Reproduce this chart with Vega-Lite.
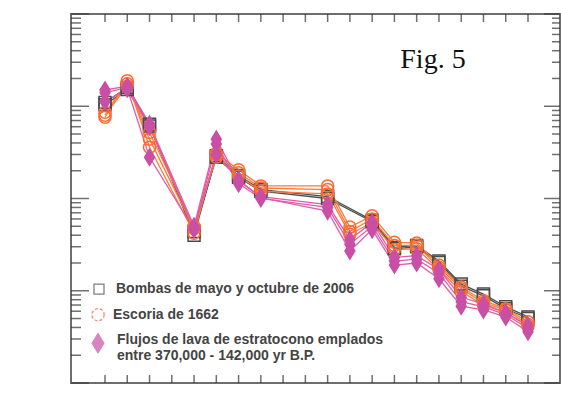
{
  "$schema": "https://vega.github.io/schema/vega-lite/v6.json",
  "width": 489,
  "height": 369,
  "autosize": {"type": "none"},
  "padding": {"left": 71, "top": 14, "right": 1, "bottom": 24},
  "background": "white",
  "config": {
    "view": {"stroke": "#6e6e6e", "strokeWidth": 2}
  },
  "data": {"values": [
    {"g":"B","s":"B1","el":"Rb","v":110},{"g":"B","s":"B1","el":"Ba","v":160},{"g":"B","s":"B1","el":"Th","v":64},{"g":"B","s":"B1","el":"Nb","v":4.0},{"g":"B","s":"B1","el":"K","v":29},{"g":"B","s":"B1","el":"La","v":17.7},{"g":"B","s":"B1","el":"Ce","v":12.5},{"g":"B","s":"B1","el":"Sr","v":10.5},{"g":"B","s":"B1","el":"Nd","v":5.8},{"g":"B","s":"B1","el":"Zr","v":2.95},{"g":"B","s":"B1","el":"Sm","v":3.1},{"g":"B","s":"B1","el":"Eu","v":2.1},{"g":"B","s":"B1","el":"Ti","v":1.18},{"g":"B","s":"B1","el":"Dy","v":0.92},{"g":"B","s":"B1","el":"Y","v":0.67},{"g":"B","s":"B1","el":"Yb","v":0.52},
    {"g":"B","s":"B2","el":"Rb","v":104},{"g":"B","s":"B2","el":"Ba","v":152},{"g":"B","s":"B2","el":"Th","v":61},{"g":"B","s":"B2","el":"Nb","v":4.4},{"g":"B","s":"B2","el":"K","v":28},{"g":"B","s":"B2","el":"La","v":17},{"g":"B","s":"B2","el":"Ce","v":12},{"g":"B","s":"B2","el":"Sr","v":10},{"g":"B","s":"B2","el":"Nd","v":5.6},{"g":"B","s":"B2","el":"Zr","v":2.85},{"g":"B","s":"B2","el":"Sm","v":3.0},{"g":"B","s":"B2","el":"Eu","v":2.02},{"g":"B","s":"B2","el":"Ti","v":1.12},{"g":"B","s":"B2","el":"Dy","v":0.88},{"g":"B","s":"B2","el":"Y","v":0.64},{"g":"B","s":"B2","el":"Yb","v":0.5},
    {"g":"E","s":"E1","el":"Rb","v":76},{"g":"E","s":"E1","el":"Ba","v":189},{"g":"E","s":"E1","el":"Th","v":36},{"g":"E","s":"E1","el":"Nb","v":4.2},{"g":"E","s":"E1","el":"K","v":31},{"g":"E","s":"E1","el":"La","v":20.5},{"g":"E","s":"E1","el":"Ce","v":13.7},{"g":"E","s":"E1","el":"Sr","v":13.7},{"g":"E","s":"E1","el":"P","v":4.9},{"g":"E","s":"E1","el":"Nd","v":6.5},{"g":"E","s":"E1","el":"Zr","v":3.35},{"g":"E","s":"E1","el":"Sm","v":3.3},{"g":"E","s":"E1","el":"Eu","v":1.9},{"g":"E","s":"E1","el":"Ti","v":1.1},{"g":"E","s":"E1","el":"Dy","v":0.78},{"g":"E","s":"E1","el":"Y","v":0.64},{"g":"E","s":"E1","el":"Yb","v":0.46},
    {"g":"E","s":"E2","el":"Rb","v":86},{"g":"E","s":"E2","el":"Ba","v":175},{"g":"E","s":"E2","el":"Th","v":44},{"g":"E","s":"E2","el":"Nb","v":4.7},{"g":"E","s":"E2","el":"K","v":30},{"g":"E","s":"E2","el":"La","v":19},{"g":"E","s":"E2","el":"Ce","v":13},{"g":"E","s":"E2","el":"Sr","v":12.5},{"g":"E","s":"E2","el":"P","v":4.4},{"g":"E","s":"E2","el":"Nd","v":6.0},{"g":"E","s":"E2","el":"Zr","v":3.1},{"g":"E","s":"E2","el":"Sm","v":3.1},{"g":"E","s":"E2","el":"Eu","v":1.8},{"g":"E","s":"E2","el":"Ti","v":1.05},{"g":"E","s":"E2","el":"Dy","v":0.74},{"g":"E","s":"E2","el":"Y","v":0.62},{"g":"E","s":"E2","el":"Yb","v":0.43},
    {"g":"E","s":"E3","el":"Rb","v":80},{"g":"E","s":"E3","el":"Ba","v":165},{"g":"E","s":"E3","el":"Th","v":52},{"g":"E","s":"E3","el":"Nb","v":5.0},{"g":"E","s":"E3","el":"K","v":28},{"g":"E","s":"E3","el":"La","v":17.5},{"g":"E","s":"E3","el":"Ce","v":12},{"g":"E","s":"E3","el":"Sr","v":11.2},{"g":"E","s":"E3","el":"P","v":4.1},{"g":"E","s":"E3","el":"Nd","v":5.5},{"g":"E","s":"E3","el":"Zr","v":2.8},{"g":"E","s":"E3","el":"Sm","v":2.85},{"g":"E","s":"E3","el":"Eu","v":1.7},{"g":"E","s":"E3","el":"Ti","v":0.98},{"g":"E","s":"E3","el":"Dy","v":0.7},{"g":"E","s":"E3","el":"Y","v":0.58},{"g":"E","s":"E3","el":"Yb","v":0.41},
    {"g":"F","s":"F1","el":"Rb","v":150},{"g":"F","s":"F1","el":"Ba","v":165},{"g":"F","s":"F1","el":"Th","v":64},{"g":"F","s":"F1","el":"Nb","v":5.0},{"g":"F","s":"F1","el":"K","v":44},{"g":"F","s":"F1","el":"La","v":15.5},{"g":"F","s":"F1","el":"Ce","v":10.5},{"g":"F","s":"F1","el":"Sr","v":8.6},{"g":"F","s":"F1","el":"P","v":3.6},{"g":"F","s":"F1","el":"Nd","v":5.5},{"g":"F","s":"F1","el":"Zr","v":2.3},{"g":"F","s":"F1","el":"Sm","v":2.4},{"g":"F","s":"F1","el":"Eu","v":1.7},{"g":"F","s":"F1","el":"Ti","v":0.85},{"g":"F","s":"F1","el":"Dy","v":0.72},{"g":"F","s":"F1","el":"Y","v":0.58},{"g":"F","s":"F1","el":"Yb","v":0.42},
    {"g":"F","s":"F2","el":"Rb","v":112},{"g":"F","s":"F2","el":"Ba","v":155},{"g":"F","s":"F2","el":"Th","v":28},{"g":"F","s":"F2","el":"Nb","v":4.6},{"g":"F","s":"F2","el":"K","v":39},{"g":"F","s":"F2","el":"La","v":14.5},{"g":"F","s":"F2","el":"Ce","v":10},{"g":"F","s":"F2","el":"Sr","v":8.0},{"g":"F","s":"F2","el":"P","v":3.2},{"g":"F","s":"F2","el":"Nd","v":5.0},{"g":"F","s":"F2","el":"Zr","v":2.1},{"g":"F","s":"F2","el":"Sm","v":2.2},{"g":"F","s":"F2","el":"Eu","v":1.55},{"g":"F","s":"F2","el":"Ti","v":0.76},{"g":"F","s":"F2","el":"Dy","v":0.67},{"g":"F","s":"F2","el":"Y","v":0.55},{"g":"F","s":"F2","el":"Yb","v":0.39},
    {"g":"F","s":"F3","el":"Rb","v":140},{"g":"F","s":"F3","el":"Ba","v":160},{"g":"F","s":"F3","el":"Th","v":60},{"g":"F","s":"F3","el":"Nb","v":4.8},{"g":"F","s":"F3","el":"K","v":30},{"g":"F","s":"F3","el":"La","v":16},{"g":"F","s":"F3","el":"Ce","v":10.2},{"g":"F","s":"F3","el":"Sr","v":7.3},{"g":"F","s":"F3","el":"P","v":2.7},{"g":"F","s":"F3","el":"Nd","v":4.6},{"g":"F","s":"F3","el":"Zr","v":1.9},{"g":"F","s":"F3","el":"Sm","v":2.0},{"g":"F","s":"F3","el":"Eu","v":1.35},{"g":"F","s":"F3","el":"Ti","v":0.68},{"g":"F","s":"F3","el":"Dy","v":0.62},{"g":"F","s":"F3","el":"Y","v":0.52},{"g":"F","s":"F3","el":"Yb","v":0.36}
  ]},
  "datasets": {
    "elements": [{"el":"Rb"},{"el":"Ba"},{"el":"Th"},{"el":"U"},{"el":"Nb"},{"el":"K"},{"el":"La"},{"el":"Ce"},{"el":"Pb"},{"el":"Pr"},{"el":"Sr"},{"el":"P"},{"el":"Nd"},{"el":"Zr"},{"el":"Sm"},{"el":"Eu"},{"el":"Ti"},{"el":"Dy"},{"el":"Y"},{"el":"Yb"}],
    "major": [{"t":0.1},{"t":1},{"t":10},{"t":100},{"t":1000}],
    "minor": [{"t":0.2},{"t":0.3},{"t":0.4},{"t":0.5},{"t":0.6},{"t":0.7},{"t":0.8},{"t":0.9},{"t":2},{"t":3},{"t":4},{"t":5},{"t":6},{"t":7},{"t":8},{"t":9},{"t":20},{"t":30},{"t":40},{"t":50},{"t":60},{"t":70},{"t":80},{"t":90},{"t":200},{"t":300},{"t":400},{"t":500},{"t":600},{"t":700},{"t":800},{"t":900}],
    "one": [{}]
  },
  "layer": [
    {
      "mark": {"type": "line", "strokeWidth": 1.3},
      "encoding": {
        "x": {"field": "el", "type": "ordinal",
          "scale": {"type": "point", "domain": ["Rb","Ba","Th","U","Nb","K","La","Ce","Pb","Pr","Sr","P","Nd","Zr","Sm","Eu","Ti","Dy","Y","Yb"], "range": [34, 457], "padding": 0},
          "axis": {"orient": "bottom", "title": null, "domain": false, "grid": false, "labelAngle": 0, "ticks": false,
            "labelPadding": 6,
            "labelFont": "Liberation Sans Narrow, Liberation Sans", "labelFontSize": 15, "labelColor": "#444444"}},
        "y": {"field": "v", "type": "quantitative",
          "scale": {"type": "log", "domain": [0.1, 1000], "nice": false},
          "axis": {"orient": "left", "domain": false, "grid": false, "ticks": false,
            "values": [0.1, 1, 10, 100, 1000],
            "format": "~g", "labelOverlap": false, "labelPadding": 9,
            "labelFont": "DejaVu Sans", "labelFontSize": 14, "labelColor": "#444444",
            "title": "Rock/NMORB", "titleFont": "Liberation Sans", "titleFontSize": 18, "titleFontWeight": "normal", "titleColor": "#444444", "titlePadding": 2}},
        "color": {"field": "g", "type": "nominal", "legend": null,
          "scale": {"domain": ["B","E","F"], "range": ["#505050", "#FF7A3A", "#E35CA8"]}},
        "detail": {"field": "s"},
        "order": {"value": null}
      }
    },
    {
      "data": {"name": "elements"},
      "mark": {"type": "tick", "orient": "vertical", "size": 8, "thickness": 1.5, "color": "#333333", "yOffset": -4},
      "encoding": {
        "x": {"field": "el", "type": "ordinal", "axis": null},
        "y": {"datum": 0.1, "type": "quantitative", "axis": null}
      }
    },
    {
      "data": {"name": "elements"},
      "mark": {"type": "tick", "orient": "vertical", "size": 8, "thickness": 1.5, "color": "#333333", "yOffset": 4},
      "encoding": {
        "x": {"field": "el", "type": "ordinal", "axis": null},
        "y": {"datum": 1000, "type": "quantitative", "axis": null}
      }
    },
    {
      "data": {"name": "major"},
      "mark": {"type": "tick", "orient": "horizontal", "size": 18, "thickness": 1.5, "color": "#333333", "xOffset": -25},
      "encoding": {
        "x": {"datum": "Rb", "type": "ordinal", "axis": null},
        "y": {"field": "t", "type": "quantitative", "axis": null}
      }
    },
    {
      "data": {"name": "minor"},
      "mark": {"type": "tick", "orient": "horizontal", "size": 10, "thickness": 1.5, "color": "#333333", "xOffset": -29},
      "encoding": {
        "x": {"datum": "Rb", "type": "ordinal", "axis": null},
        "y": {"field": "t", "type": "quantitative", "axis": null}
      }
    },
    {
      "data": {"name": "major"},
      "mark": {"type": "tick", "orient": "horizontal", "size": 16, "thickness": 1.5, "color": "#333333", "xOffset": 24},
      "encoding": {
        "x": {"datum": "Yb", "type": "ordinal", "axis": null},
        "y": {"field": "t", "type": "quantitative", "axis": null}
      }
    },
    {
      "data": {"name": "minor"},
      "mark": {"type": "tick", "orient": "horizontal", "size": 8, "thickness": 1.5, "color": "#333333", "xOffset": 28},
      "encoding": {
        "x": {"datum": "Yb", "type": "ordinal", "axis": null},
        "y": {"field": "t", "type": "quantitative", "axis": null}
      }
    },
    {
      "mark": {"type": "point", "strokeWidth": 1.5, "opacity": 1, "size": 144},
      "encoding": {
        "x": {"field": "el", "type": "ordinal", "axis": null},
        "y": {"field": "v", "type": "quantitative", "axis": null},
        "shape": {"field": "g", "type": "nominal", "legend": null,
          "scale": {"domain": ["B","E","F"], "range": ["square", "circle", "M0,-1.35L0.82,0L0,1.35L-0.82,0Z"]}},
        "stroke": {"field": "g", "type": "nominal", "legend": null,
          "scale": {"domain": ["B","E","F"], "range": ["#4a4a4a", "#FF6A2E", "#C94FA6"]}},
        "fill": {"field": "g", "type": "nominal", "legend": null,
          "scale": {"domain": ["B","E","F"], "range": ["transparent", "transparent", "#C94FA6"]}}
      }
    },
    {
      "data": {"name": "one"},
      "mark": {"type": "text", "text": "Fig. 5", "font": "Times New Roman, Liberation Serif, Nimbus Roman, serif", "fontWeight": "normal", "fontSize": 28, "color": "#111111", "align": "center", "baseline": "alphabetic", "dx": -6},
      "encoding": {
        "x": {"datum": "Eu", "type": "ordinal", "axis": null},
        "y": {"datum": 260, "type": "quantitative", "axis": null}
      }
    },
    {
      "data": {"name": "one"},
      "mark": {"type": "point", "shape": "square", "size": 100, "filled": false, "stroke": "#4a4a4a", "strokeWidth": 1.3, "xOffset": -6},
      "encoding": {
        "x": {"datum": "Rb", "type": "ordinal", "axis": null},
        "y": {"datum": 1.04, "type": "quantitative", "axis": null}
      }
    },
    {
      "data": {"name": "one"},
      "mark": {"type": "text", "text": "Bombas de mayo y octubre de 2006", "font": "Liberation Sans", "fontWeight": "bold", "fontSize": 14, "color": "#444444", "align": "left", "baseline": "middle", "dx": 11},
      "encoding": {
        "x": {"datum": "Rb", "type": "ordinal", "axis": null},
        "y": {"datum": 1.04, "type": "quantitative", "axis": null}
      }
    },
    {
      "data": {"name": "one"},
      "mark": {"type": "point", "shape": "circle", "size": 150, "filled": false, "stroke": "#FF5A3A", "strokeWidth": 1.3, "strokeDash": [3, 2], "xOffset": -7},
      "encoding": {
        "x": {"datum": "Rb", "type": "ordinal", "axis": null},
        "y": {"datum": 0.55, "type": "quantitative", "axis": null}
      }
    },
    {
      "data": {"name": "one"},
      "mark": {"type": "text", "text": "Escoria de 1662", "font": "Liberation Sans", "fontWeight": "bold", "fontSize": 14, "color": "#444444", "align": "left", "baseline": "middle", "dx": 8},
      "encoding": {
        "x": {"datum": "Rb", "type": "ordinal", "axis": null},
        "y": {"datum": 0.55, "type": "quantitative", "axis": null}
      }
    },
    {
      "data": {"name": "one"},
      "mark": {"type": "point", "shape": "M0,-1.35L0.82,0L0,1.35L-0.82,0Z", "size": 220, "filled": true, "fill": "#C94FA6", "stroke": "#C94FA6", "strokeWidth": 1, "xOffset": -7},
      "encoding": {
        "x": {"datum": "Rb", "type": "ordinal", "axis": null},
        "y": {"datum": 0.27, "type": "quantitative", "axis": null}
      }
    },
    {
      "data": {"name": "one"},
      "mark": {"type": "text", "text": "Flujos de lava de estratocono emplados", "font": "Liberation Sans", "fontWeight": "bold", "fontSize": 14, "color": "#444444", "align": "left", "baseline": "middle", "dx": 12},
      "encoding": {
        "x": {"datum": "Rb", "type": "ordinal", "axis": null},
        "y": {"datum": 0.292, "type": "quantitative", "axis": null}
      }
    },
    {
      "data": {"name": "one"},
      "mark": {"type": "text", "text": "entre 370,000 - 142,000 yr B.P.", "font": "Liberation Sans", "fontWeight": "bold", "fontSize": 14, "color": "#444444", "align": "left", "baseline": "middle", "dx": 12},
      "encoding": {
        "x": {"datum": "Rb", "type": "ordinal", "axis": null},
        "y": {"datum": 0.196, "type": "quantitative", "axis": null}
      }
    }
  ]
}
